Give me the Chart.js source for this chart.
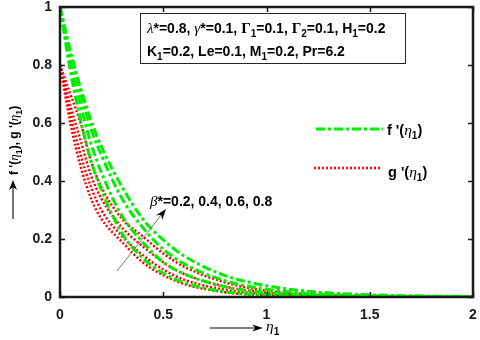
<!DOCTYPE html>
<html>
<head>
<meta charset="utf-8">
<script src="https://cdn.jsdelivr.net/npm/chart.js@4"></script>
<style>
  html, body { margin: 0; padding: 0; background: #fff; }
  #wrap { width: 480px; height: 340px; }
</style>
</head>
<body>
<div id="wrap"><canvas id="chart" width="480" height="340"></canvas></div>
<script>
// eta_1 sample points
const eta = [0, 0.05, 0.1, 0.15, 0.2, 0.3, 0.4, 0.5, 0.6, 0.8, 1.0, 1.2, 1.5, 2.0];

// f'(eta1) for beta* = 0.2, 0.4, 0.6, 0.8
const fB02 = [1, 0.78, 0.61, 0.47, 0.37, 0.22, 0.135, 0.082, 0.05, 0.018, 0.007, 0.0025, 0.0006, 0];
const fB04 = [1, 0.81, 0.66, 0.53, 0.43, 0.28, 0.19, 0.12, 0.08, 0.035, 0.015, 0.0065, 0.002, 0];
const fB06 = [1, 0.835, 0.70, 0.58, 0.49, 0.34, 0.24, 0.165, 0.115, 0.056, 0.027, 0.013, 0.0045, 0.001];
const fB08 = [1, 0.85, 0.72, 0.61, 0.52, 0.38, 0.27, 0.197, 0.142, 0.074, 0.039, 0.02, 0.0076, 0.0015];

// g'(eta1) for beta* = 0.2, 0.4, 0.6, 0.8
const gB02 = [0.8, 0.60, 0.45, 0.34, 0.27, 0.19, 0.12, 0.075, 0.045, 0.016, 0.006, 0.002, 0.0005, 0];
const gB04 = [0.8, 0.63, 0.49, 0.38, 0.30, 0.21, 0.145, 0.095, 0.06, 0.025, 0.01, 0.004, 0.001, 0];
const gB06 = [0.8, 0.66, 0.54, 0.42, 0.34, 0.24, 0.175, 0.12, 0.08, 0.036, 0.015, 0.006, 0.002, 0];
const gB08 = [0.8, 0.70, 0.60, 0.47, 0.38, 0.27, 0.21, 0.15, 0.105, 0.05, 0.022, 0.01, 0.003, 0];

const xTicks = [0, 0.5, 1, 1.5, 2];
const yTicks = [0, 0.2, 0.4, 0.6, 0.8, 1];

const GREEN = '#00ee00';
const RED = '#ff0000';

function pts(ys) {
  return eta.map((x, i) => ({ x: x, y: ys[i] }));
}
function fLine(ys) {
  return { data: pts(ys), borderColor: GREEN, borderWidth: 3, borderDash: [9, 3, 3, 3],
           pointRadius: 0, fill: false, cubicInterpolationMode: 'monotone' };
}
function gLine(ys) {
  return { data: pts(ys), borderColor: RED, borderWidth: 2.5, borderDash: [2, 2],
           pointRadius: 0, fill: false, cubicInterpolationMode: 'monotone' };
}

const SANS = '"Liberation Sans", Arial, sans-serif';
const SERIF = '"Liberation Serif", "Times New Roman", serif';

// draw text made of segments: {t, sub, it, serif}
function rich(ctx, x, y, segs, size) {
  ctx.save();
  ctx.textBaseline = 'alphabetic';
  ctx.textAlign = 'left';
  let cx = x;
  segs.forEach(s => {
    const sz = s.sub ? Math.round(size * 0.72) : (s.serif ? size + 1 : size);
    const fam = s.serif ? SERIF : SANS;
    ctx.font = (s.it ? 'italic ' : '') + (s.serif && s.it ? '' : 'bold ') + sz + 'px ' + fam;
    ctx.fillText(s.t, cx, y + (s.sub ? 4 : 0));
    cx += ctx.measureText(s.t).width;
  });
  ctx.restore();
  return cx;
}

function arrowHead(ctx, x1, y1, x2, y2, len, wid) {
  const a = Math.atan2(y2 - y1, x2 - x1);
  ctx.beginPath();
  ctx.moveTo(x2, y2);
  ctx.lineTo(x2 - len * Math.cos(a) + wid * Math.sin(a), y2 - len * Math.sin(a) - wid * Math.cos(a));
  ctx.lineTo(x2 - len * Math.cos(a) * 0.7, y2 - len * Math.sin(a) * 0.7);
  ctx.lineTo(x2 - len * Math.cos(a) - wid * Math.sin(a), y2 - len * Math.sin(a) + wid * Math.cos(a));
  ctx.closePath();
  ctx.fill();
}

const decor = {
  id: 'decor',
  afterDraw(chart) {
    const ctx = chart.ctx;
    const xs = chart.scales.x, ys = chart.scales.y;
    const a = chart.chartArea;
    ctx.save();
    // frame
    ctx.strokeStyle = '#1a1a1a';
    ctx.lineWidth = 2.5;
    ctx.strokeRect(a.left, a.top, a.right - a.left, a.bottom - a.top);
    // inward ticks
    ctx.lineWidth = 1.5;
    ctx.beginPath();
    xTicks.forEach(v => {
      const px = Math.round(xs.getPixelForValue(v)) + 0.5;
      ctx.moveTo(px, a.bottom); ctx.lineTo(px, a.bottom - 5);
      ctx.moveTo(px, a.top); ctx.lineTo(px, a.top + 5);
    });
    yTicks.forEach(v => {
      const py = Math.round(ys.getPixelForValue(v)) + 0.5;
      ctx.moveTo(a.left, py); ctx.lineTo(a.left + 5, py);
      ctx.moveTo(a.right, py); ctx.lineTo(a.right - 5, py);
    });
    ctx.stroke();

    // parameter box
    ctx.fillStyle = '#fff';
    ctx.fillRect(140, 13, 265, 50);
    ctx.strokeStyle = '#262626';
    ctx.lineWidth = 1;
    ctx.strokeRect(140.5, 13.5, 265, 50);
    ctx.fillStyle = '#000';
    rich(ctx, 147, 33, [
      { t: 'λ', it: true, serif: true }, { t: '*=0.8, ' },
      { t: 'γ', it: true, serif: true }, { t: '*=0.1, ' },
      { t: 'Γ', serif: true }, { t: '1', sub: true }, { t: '=0.1, ' },
      { t: 'Γ', serif: true }, { t: '2', sub: true }, { t: '=0.1, H' },
      { t: '1', sub: true }, { t: '=0.2' }
    ], 14);
    rich(ctx, 147, 56, [
      { t: 'K' }, { t: '1', sub: true }, { t: '=0.2, Le=0.1, M' },
      { t: '1', sub: true }, { t: '=0.2, Pr=6.2' }
    ], 14);

    // legend
    ctx.lineWidth = 3;
    ctx.strokeStyle = GREEN;
    ctx.setLineDash([9, 3, 3, 3]);
    ctx.beginPath(); ctx.moveTo(316, 129); ctx.lineTo(383, 129); ctx.stroke();
    ctx.lineWidth = 2.5;
    ctx.strokeStyle = RED;
    ctx.setLineDash([2, 2]);
    ctx.beginPath(); ctx.moveTo(314, 168); ctx.lineTo(380, 168); ctx.stroke();
    ctx.setLineDash([]);
    rich(ctx, 387, 135, [{ t: "f '(" }, { t: 'η', it: true, serif: true }, { t: '1', sub: true }, { t: ')' }], 14.5);
    rich(ctx, 388, 177, [{ t: "g '(" }, { t: 'η', it: true, serif: true }, { t: '1', sub: true }, { t: ')' }], 14.5);

    // beta annotation with arrow
    ctx.strokeStyle = '#777';
    ctx.lineWidth = 1;
    ctx.beginPath(); ctx.moveTo(117, 271); ctx.lineTo(162, 214); ctx.stroke();
    ctx.fillStyle = '#000';
    arrowHead(ctx, 117, 271, 166, 209, 11, 4);
    rich(ctx, 150, 206, [{ t: 'β', it: true, serif: true }, { t: '*=0.2, 0.4, 0.6, 0.8' }], 14);

    // x axis title
    ctx.strokeStyle = '#000';
    ctx.lineWidth = 1.2;
    ctx.beginPath(); ctx.moveTo(210, 328); ctx.lineTo(256, 328); ctx.stroke();
    arrowHead(ctx, 210, 328, 263, 328, 11, 3.5);
    rich(ctx, 266, 331, [{ t: 'η', it: true, serif: true }, { t: '1', sub: true }], 14.5);

    // y axis title
    ctx.save();
    ctx.translate(18, 0);
    ctx.rotate(-Math.PI / 2);
    ctx.strokeStyle = '#444';
    ctx.lineWidth = 1.5;
    ctx.beginPath(); ctx.moveTo(-219, -5); ctx.lineTo(-186, -5); ctx.stroke();
    ctx.fillStyle = '#000';
    arrowHead(ctx, -219, -5, -180, -5, 10, 4);
    rich(ctx, -175, 0, [
      { t: "f '(" }, { t: 'η', it: true, serif: true }, { t: '1', sub: true },
      { t: "), g '(" }, { t: 'η', it: true, serif: true }, { t: '1', sub: true }, { t: ')' }
    ], 12);
    ctx.restore();
    ctx.restore();
  }
};

new Chart(document.getElementById('chart').getContext('2d'), {
  type: 'line',
  data: {
    datasets: [fLine(fB02), fLine(fB04), fLine(fB06), fLine(fB08),
               gLine(gB02), gLine(gB04), gLine(gB06), gLine(gB08)]
  },
  options: {
    responsive: false,
    animation: false,
    layout: { padding: { left: 2, right: 7, top: 7, bottom: 0 } },
    plugins: { legend: { display: false }, tooltip: { enabled: false } },
    scales: {
      x: {
        type: 'linear', min: 0, max: 2,
        afterBuildTicks: s => { s.ticks = xTicks.map(v => ({ value: v })); },
        afterFit: s => { s.height = 43; s.paddingLeft = 0; s.paddingRight = 0; },
        grid: { display: false, drawTicks: false },
        border: { display: false },
        ticks: { color: '#1a1a1a', padding: 10, callback: v => String(v),
                 font: { family: SANS, size: 14, weight: 'bold' } }
      },
      y: {
        type: 'linear', min: 0, max: 1,
        afterBuildTicks: s => { s.ticks = yTicks.map(v => ({ value: v })); },
        afterFit: s => { s.width = 58; s.paddingTop = 0; s.paddingBottom = 0; },
        grid: { display: false, drawTicks: false },
        border: { display: false },
        ticks: { color: '#1a1a1a', padding: 8, callback: v => String(v),
                 font: { family: SANS, size: 14, weight: 'bold' } }
      }
    }
  },
  plugins: [decor]
});
</script>
</body>
</html>
